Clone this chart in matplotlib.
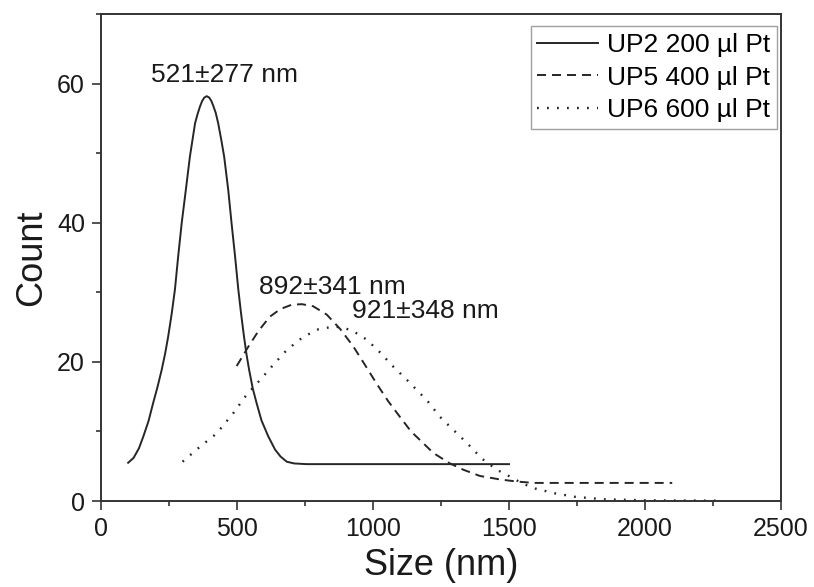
import matplotlib
matplotlib.use("Agg")
import matplotlib.pyplot as plt
from matplotlib.ticker import MultipleLocator

plt.rcParams['font.family'] = ['Liberation Sans', 'DejaVu Sans']
plt.rcParams['lines.scale_dashes'] = False

# ---- data ----
up2_x = [100, 120, 140, 156, 175, 192, 208, 223, 236, 247, 260, 272, 284, 297, 312, 327, 346,
         355, 364, 372, 380, 389, 398, 406, 413, 422, 431, 442, 453, 468, 480, 493, 505, 515,
         526, 535, 545, 558, 572, 590, 615, 640, 660, 683, 710, 756, 1500]
up2_y = [5.5, 6.2, 7.6, 9.3, 11.5, 14.1, 16.4, 18.8, 21.2, 23.6, 26.9, 30.4, 35.2, 40.0, 44.7,
         49.5, 54.3, 55.6, 56.7, 57.5, 58.0, 58.2, 58.0, 57.5, 56.8, 55.8, 54.3, 52.0, 49.5,
         44.7, 40.0, 35.2, 30.4, 27.0, 23.6, 21.1, 18.8, 16.2, 14.1, 11.6, 9.3, 7.4, 6.4,
         5.65, 5.4, 5.3, 5.3]

up5_x = [499, 542, 580, 621, 660, 700, 738, 780, 830, 880, 928, 970, 1013, 1055, 1099, 1140,
         1185, 1222, 1283, 1332, 1393, 1467, 1528, 1590, 1700, 2100]
up5_y = [19.4, 22.2, 24.5, 26.5, 27.6, 28.2, 28.3, 28.0, 26.8, 24.7, 22.2, 19.6, 16.9, 14.4,
         12.1, 10.0, 8.3, 6.9, 5.4, 4.5, 3.6, 3.1, 2.8, 2.6, 2.6, 2.6]

up6_x = [300, 364, 425, 486, 536, 585, 634, 683, 744, 800, 860, 920, 977, 1025, 1075, 1120,
         1160, 1200, 1246, 1296, 1344, 1400, 1455, 1504, 1550, 1596, 1669, 1743, 1847, 2006, 2270]
up6_y = [5.65, 7.8, 9.7, 12.6, 15.3, 17.4, 19.6, 21.7, 23.6, 24.7, 25.1, 24.6, 23.2, 21.4,
         19.3, 17.6, 16.0, 14.4, 12.1, 10.2, 8.4, 6.1, 4.5, 3.5, 2.5, 1.8, 1.1, 0.6, 0.25,
         0.1, 0.05]

labels = ["UP2 200 µl Pt", "UP5 400 µl Pt", "UP6 600 µl Pt"]
annotations = ["521±277 nm", "892±341 nm", "921±348 nm"]
annot_x = [453, 852, 1191]
annot_y = [61.2, 30.8, 27.3]

x_ticks = [0, 500, 1000, 1500, 2000, 2500]
y_ticks = [0, 20, 40, 60]

# ---- figure ----
fig = plt.figure(figsize=(8.14, 5.87), dpi=100)
ax = fig.add_axes([0.124, 0.1465, 0.8355, 0.8295])

col = '#262626'
ax.plot(up2_x, up2_y, color=col, lw=1.4, linestyle='-', label=labels[0])
ax.plot(up5_x, up5_y, color=col, lw=1.4, linestyle=(0, (6.5, 4.3)), label=labels[1])
ax.plot(up6_x, up6_y, color=col, lw=1.7, linestyle=(0, (1.3, 5.9)), label=labels[2])

for t, xx, yy in zip(annotations, annot_x, annot_y):
    ax.text(xx, yy, t, ha='center', va='center', fontsize=19, color='#1a1a1a')

ax.set_xlim(0, 2500)
ax.set_ylim(0, 70)
ax.set_xticks(x_ticks)
ax.set_yticks(y_ticks)
ax.xaxis.set_minor_locator(MultipleLocator(250))
ax.yaxis.set_minor_locator(MultipleLocator(10))
ax.tick_params(which='major', direction='out', length=6.5, width=1.2, labelsize=18,
               colors='#333333', labelcolor='#1a1a1a', pad=5)
ax.tick_params(which='minor', direction='out', length=3.8, width=1.2, colors='#333333')
ax.tick_params(top=False, right=False, which='both')
for s in ax.spines.values():
    s.set_linewidth(1.4)
    s.set_color('#333333')

ax.set_xlabel("Size (nm)", fontsize=26, labelpad=5, color='#1a1a1a')
ax.set_ylabel("Count", fontsize=26, labelpad=6, color='#1a1a1a')

leg = ax.legend(loc='upper right', bbox_to_anchor=(0.994, 0.975), borderaxespad=0,
                fontsize=19, frameon=True, fancybox=False, handlelength=2.3,
                handletextpad=0.35, labelspacing=0.33, borderpad=0.25)
leg.get_frame().set_edgecolor('#888888')
leg.get_frame().set_linewidth(1.0)

fig.savefig("out.png", dpi=100)
